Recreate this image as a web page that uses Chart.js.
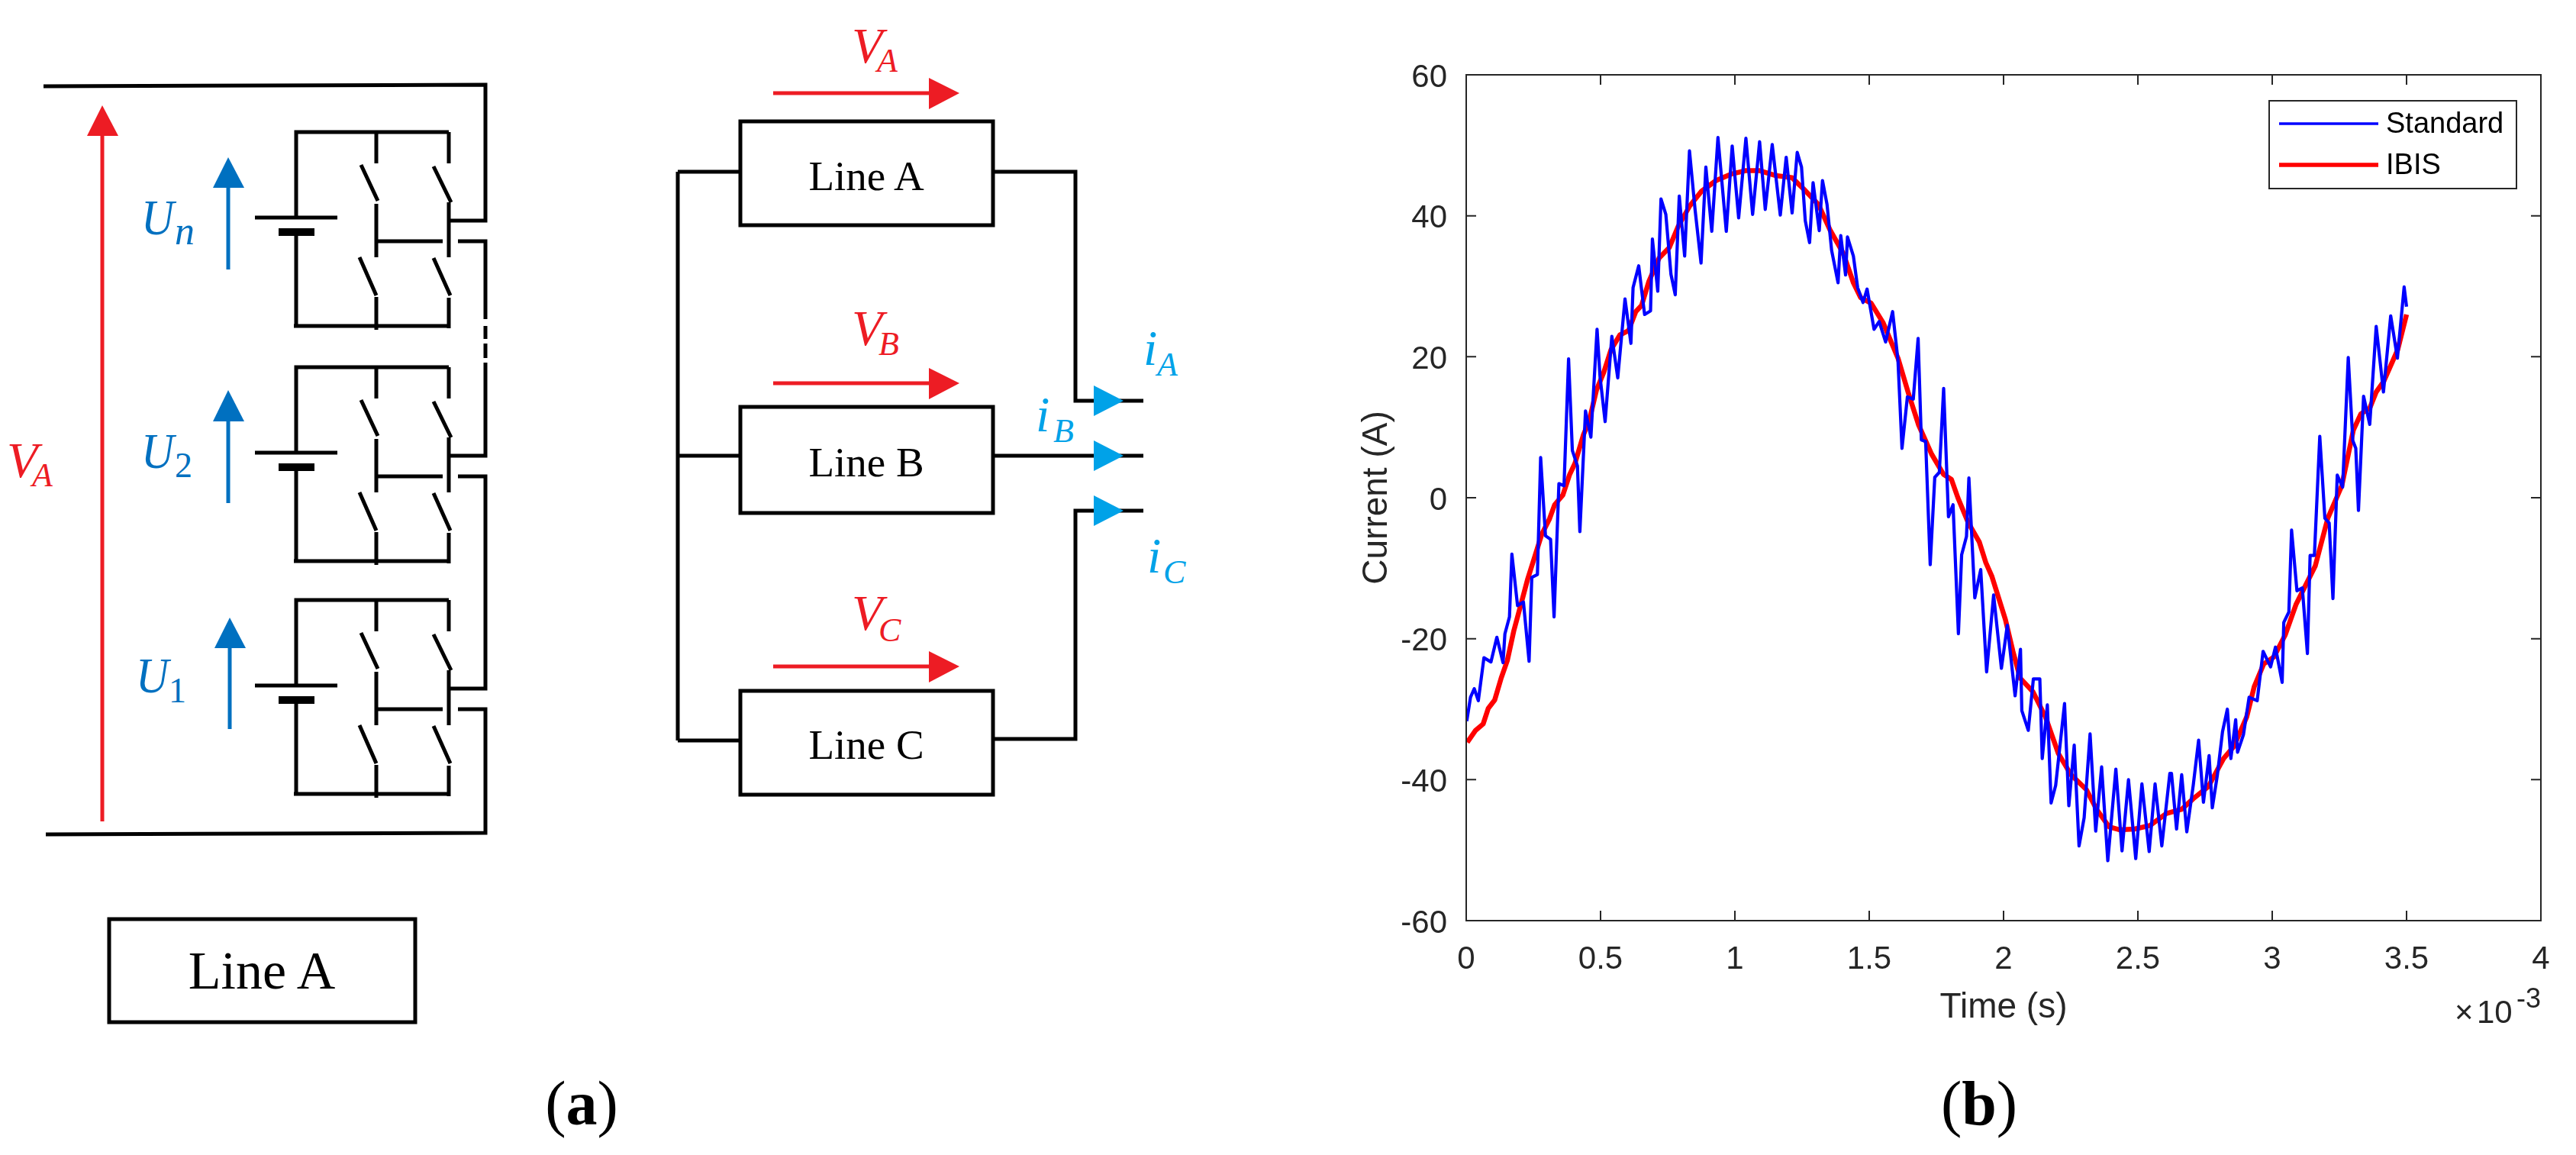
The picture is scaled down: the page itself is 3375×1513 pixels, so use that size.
<!DOCTYPE html>
<html>
<head>
<meta charset="utf-8">
<title>Line circuit and phase current</title>
<script src="https://cdn.jsdelivr.net/npm/chart.js@4/dist/chart.umd.min.js"></script>
<style>
    html, body { margin: 0; background: #fff; }
    #page { position: relative; width: 3375px; height: 1513px; overflow: hidden; }
    #page svg, #page canvas { position: absolute; left: 0; top: 0; }
    .wire { stroke: #000; stroke-width: 5; fill: none; }
    .lbl { font-family: "Liberation Serif", serif; font-style: italic; }
    .box { font-family: "Liberation Serif", serif; fill: #000; }
</style>
</head>
<body>
<div id="page">

    <!-- panel (a): the circuit, not data -->
    <svg width="3375" height="1513" viewBox="0 0 3375 1513" xmlns="http://www.w3.org/2000/svg">
        <defs>
            <g id="cell">
                <path class="wire" d="M588 173H388V285M385 427H590M388 309V427"/>
                <path class="wire" d="M493 173V214M473 216L495 263M493 267V337M471 337L493 387M493 389V432"/>
                <path class="wire" d="M588 173V214M568 218L591 265M588 265V337M568 338L590 387M588 390V430"/>
                <path class="wire" d="M493 316H580"/>
                <path class="wire" d="M334 285H442"/>
                <rect x="365" y="299" width="47" height="10" fill="#000"/>
            </g>
        </defs>

        <path class="wire" d="M57 113L636 111V289H588"/>
        <use href="#cell"/>
        <path class="wire" d="M600 316H636V418M636 427V444M636 450V469M636 475V597H588"/>
        <use href="#cell" y="308"/>
        <path class="wire" d="M600 624H636V902H588"/>
        <use href="#cell" y="613"/>
        <path class="wire" d="M600 929H636V1091L60 1093"/>

        <!-- left red arrow and cell arrows -->
        <path d="M134 1076V170" stroke="#ed1c24" stroke-width="5"/>
        <path d="M134 138L155 178H114Z" fill="#ed1c24"/>
        <path d="M299 353V240" stroke="#0070c0" stroke-width="5"/>
        <path d="M299 206L320 246H279Z" fill="#0070c0"/>
        <path d="M299 659V545" stroke="#0070c0" stroke-width="5"/>
        <path d="M299 511L320 552H279Z" fill="#0070c0"/>
        <path d="M301 955V843" stroke="#0070c0" stroke-width="5"/>
        <path d="M301 809L322 849H281Z" fill="#0070c0"/>

        <g class="lbl" fill="#0070c0">
            <text x="185" y="307" font-size="66" textLength="43" lengthAdjust="spacingAndGlyphs">U</text><text x="229" y="320" font-size="52">n</text>
            <text x="185" y="613" font-size="66" textLength="43" lengthAdjust="spacingAndGlyphs">U</text><text x="229" y="625" font-size="46" font-style="normal">2</text>
            <text x="178" y="907" font-size="66" textLength="43" lengthAdjust="spacingAndGlyphs">U</text><text x="221" y="920" font-size="46" font-style="normal">1</text>
        </g>
        <g class="lbl" fill="#ed1c24">
            <text x="9" y="625" font-size="66">V</text><text x="42" y="637" font-size="44">A</text>
            <text x="1116" y="82" font-size="66">V</text><text x="1149" y="94" font-size="44">A</text>
            <text x="1116" y="452" font-size="66">V</text><text x="1151" y="465" font-size="44">B</text>
            <text x="1116" y="825" font-size="66">V</text><text x="1151" y="840" font-size="44">C</text>
        </g>

        <!-- three line boxes -->
        <path class="wire" d="M888 225V970M888 225H970M888 597H970M888 970H970"/>
        <rect class="wire" x="970" y="159" width="331" height="136"/>
        <rect class="wire" x="970" y="533" width="331" height="139"/>
        <rect class="wire" x="970" y="905" width="331" height="136"/>
        <path class="wire" d="M1301 225H1409V525H1498M1301 597H1498M1301 968H1409V669H1498"/>
        <g class="box" font-size="55" text-anchor="middle">
            <text x="1135" y="249">Line A</text>
            <text x="1135" y="624">Line B</text>
            <text x="1135" y="994">Line C</text>
        </g>
        <g fill="#ed1c24" stroke="none">
            <path d="M1217 102L1257 122L1217 143Z"/>
            <path d="M1217 482L1257 502L1217 523Z"/>
            <path d="M1217 853L1257 873L1217 894Z"/>
        </g>
        <path d="M1013 122H1220M1013 502H1220M1013 873H1220" stroke="#ed1c24" stroke-width="5"/>
        <g fill="#00a2e8">
            <path d="M1433 505L1472 525L1433 545Z"/>
            <path d="M1433 577L1472 597L1433 617Z"/>
            <path d="M1433 649L1472 669L1433 689Z"/>
        </g>
        <g class="lbl" fill="#00a2e8">
            <text x="1498" y="478" font-size="66">i</text><text x="1516" y="492" font-size="44">A</text>
            <text x="1357" y="565" font-size="66">i</text><text x="1380" y="579" font-size="44">B</text>
            <text x="1503" y="750" font-size="66">i</text><text x="1524" y="764" font-size="44">C</text>
        </g>

        <rect class="wire" x="143" y="1204" width="401" height="135"/>
        <text class="box" x="343" y="1295" font-size="70" text-anchor="middle">Line A</text>

        <text class="box" x="762" y="1473" font-size="82" text-anchor="middle">(<tspan font-weight="bold">a</tspan>)</text>
        <text class="box" x="2593" y="1473" font-size="82" text-anchor="middle">(<tspan font-weight="bold">b</tspan>)</text>
    </svg>

    <canvas id="currentChart" width="3375" height="1513"></canvas>
</div>

<script>
    // values, time in units of 1e-3 s
    const standardTime = [0.002, 0.016, 0.030, 0.045, 0.066, 0.092, 0.114, 0.137, 0.144, 0.161, 0.170, 0.191, 0.213, 0.234, 0.244, 0.265, 0.277, 0.295, 0.314, 0.327, 0.345, 0.364, 0.381, 0.395, 0.414, 0.423, 0.444, 0.464, 0.487, 0.498, 0.517, 0.542, 0.564, 0.591, 0.613, 0.621, 0.642, 0.664, 0.686, 0.693, 0.713, 0.725, 0.743, 0.762, 0.778, 0.793, 0.813, 0.831, 0.852, 0.874, 0.892, 0.914, 0.937, 0.968, 0.990, 1.014, 1.041, 1.066, 1.092, 1.113, 1.139, 1.169, 1.191, 1.213, 1.232, 1.248, 1.262, 1.278, 1.291, 1.314, 1.326, 1.343, 1.360, 1.384, 1.394, 1.412, 1.419, 1.441, 1.457, 1.477, 1.492, 1.518, 1.537, 1.561, 1.587, 1.607, 1.622, 1.642, 1.664, 1.682, 1.694, 1.710, 1.727, 1.744, 1.761, 1.777, 1.795, 1.812, 1.832, 1.844, 1.862, 1.871, 1.893, 1.915, 1.937, 1.963, 1.992, 2.014, 2.043, 2.063, 2.068, 2.092, 2.111, 2.135, 2.144, 2.163, 2.177, 2.194, 2.227, 2.243, 2.263, 2.281, 2.300, 2.322, 2.343, 2.365, 2.388, 2.418, 2.441, 2.465, 2.492, 2.515, 2.542, 2.564, 2.589, 2.619, 2.625, 2.644, 2.663, 2.682, 2.706, 2.726, 2.744, 2.765, 2.777, 2.796, 2.815, 2.833, 2.846, 2.864, 2.871, 2.893, 2.914, 2.944, 2.966, 2.994, 3.012, 3.037, 3.043, 3.062, 3.072, 3.092, 3.112, 3.131, 3.141, 3.157, 3.177, 3.196, 3.212, 3.226, 3.242, 3.262, 3.283, 3.300, 3.311, 3.321, 3.340, 3.363, 3.387, 3.414, 3.441, 3.466, 3.491, 3.500];
    const standardCurrent = [-31.7, -28.3, -27.1, -28.8, -22.7, -23.3, -19.8, -23.4, -19.3, -16.9, -8.0, -15.3, -14.8, -23.2, -11.3, -10.9, 5.7, -5.4, -5.9, -16.9, 2.0, 1.7, 19.7, 6.7, 4.5, -4.8, 12.3, 8.6, 23.9, 17.2, 10.8, 22.9, 17.0, 28.2, 21.9, 29.8, 32.9, 26.0, 26.5, 36.7, 29.3, 42.4, 40.2, 31.7, 28.8, 42.8, 34.3, 49.2, 40.8, 33.3, 46.9, 37.8, 51.1, 37.8, 49.9, 39.7, 51.0, 40.2, 50.5, 40.9, 50.1, 40.1, 48.3, 40.4, 49.0, 46.9, 39.3, 36.2, 44.7, 37.9, 45.0, 41.6, 35.1, 30.5, 37.2, 31.6, 37.0, 34.3, 29.8, 27.7, 29.6, 23.9, 25.0, 22.1, 26.4, 19.5, 7.0, 14.3, 14.0, 22.6, 8.2, 8.0, -9.5, 2.9, 3.6, 15.5, -2.7, -1.0, -19.3, -8.1, -5.5, 2.8, -14.2, -10.2, -24.7, -13.8, -24.2, -18.1, -28.1, -21.5, -30.2, -33.0, -25.7, -25.7, -37.0, -29.4, -43.3, -40.8, -29.2, -43.7, -35.1, -49.4, -45.4, -33.5, -47.3, -38.2, -51.5, -38.5, -50.1, -40.0, -51.2, -40.6, -50.2, -40.6, -49.4, -39.1, -39.1, -47.0, -39.3, -47.4, -40.8, -34.4, -43.2, -36.6, -44.0, -39.3, -33.2, -30.0, -37.0, -31.5, -36.1, -33.6, -28.3, -28.8, -21.8, -24.0, -21.2, -26.2, -17.7, -16.2, -4.6, -13.2, -12.8, -22.1, -8.2, -8.2, 8.7, -2.9, -3.6, -14.3, 3.2, 1.5, 19.9, 8.1, 7.0, -1.8, 14.4, 10.4, 24.3, 15.0, 25.8, 19.8, 29.9, 27.1];

    const ibisTime = [0.004, 0.035, 0.063, 0.082, 0.106, 0.130, 0.153, 0.177, 0.206, 0.229, 0.253, 0.281, 0.310, 0.329, 0.360, 0.385, 0.405, 0.436, 0.457, 0.485, 0.512, 0.539, 0.572, 0.604, 0.631, 0.653, 0.680, 0.718, 0.756, 0.789, 0.832, 0.876, 0.930, 0.985, 1.039, 1.093, 1.153, 1.213, 1.256, 1.311, 1.354, 1.403, 1.441, 1.468, 1.507, 1.552, 1.608, 1.646, 1.684, 1.732, 1.777, 1.806, 1.830, 1.868, 1.910, 1.934, 1.957, 2.007, 2.035, 2.062, 2.109, 2.156, 2.204, 2.251, 2.308, 2.346, 2.393, 2.431, 2.488, 2.545, 2.606, 2.663, 2.706, 2.762, 2.819, 2.857, 2.905, 2.933, 2.968, 3.006, 3.048, 3.089, 3.160, 3.207, 3.259, 3.302, 3.330, 3.363, 3.387, 3.415, 3.467, 3.500];
    const ibisCurrent = [-34.7, -33.0, -32.1, -29.9, -28.7, -25.6, -23.1, -18.9, -14.8, -11.5, -8.6, -5.2, -3.0, -1.0, 0.4, 3.3, 4.9, 8.9, 10.8, 15.3, 17.8, 21.0, 23.1, 23.7, 26.4, 27.3, 30.7, 34.0, 35.5, 38.5, 41.4, 43.5, 45.0, 45.9, 46.4, 46.4, 45.7, 45.4, 43.8, 41.6, 38.0, 34.7, 30.5, 28.4, 27.6, 24.8, 19.7, 14.8, 10.3, 6.2, 3.3, 2.6, 0.0, -3.5, -6.3, -9.2, -11.2, -17.3, -21.8, -25.6, -27.5, -31.1, -36.3, -39.3, -41.4, -44.2, -46.7, -47.1, -47.0, -46.5, -44.8, -44.2, -42.7, -41.0, -37.0, -35.3, -31.1, -26.8, -23.6, -22.6, -19.5, -15.1, -9.7, -2.9, 1.7, 9.6, 11.9, 12.7, 15.0, 16.5, 21.0, 26.0];

    const seriesNames = ['Standard', 'IBIS'];
    const xTickLabels = ['0', '0.5', '1', '1.5', '2', '2.5', '3', '3.5', '4'];
    const yTickLabels = ['-60', '-40', '-20', '0', '20', '40', '60'];

    const axisColor = '#262626';
    const axisFont = '"Liberation Sans", Arial, sans-serif';

    // MATLAB style box: ticks pointing in on all four sides, legend and exponent
    const matlabBox = {
        id: 'matlabBox',
        afterDatasetsDraw(chart) {
            const { ctx, chartArea: area, scales: { x, y } } = chart;
            ctx.save();
            ctx.strokeStyle = axisColor;
            ctx.lineWidth = 2;
            ctx.strokeRect(area.left, area.top, area.width, area.height);

            ctx.beginPath();
            x.ticks.forEach(t => {
                const px = x.getPixelForValue(t.value);
                ctx.moveTo(px, area.bottom);
                ctx.lineTo(px, area.bottom - 13);
                ctx.moveTo(px, area.top);
                ctx.lineTo(px, area.top + 13);
            });
            y.ticks.forEach(t => {
                const py = y.getPixelForValue(t.value);
                ctx.moveTo(area.left, py);
                ctx.lineTo(area.left + 13, py);
                ctx.moveTo(area.right, py);
                ctx.lineTo(area.right - 13, py);
            });
            ctx.stroke();

            // legend
            ctx.fillStyle = '#fff';
            ctx.fillRect(2973, 132, 324, 115);
            ctx.lineWidth = 2;
            ctx.strokeRect(2973, 132, 324, 115);
            const rowY = [162, 216];
            chart.data.datasets.forEach((ds, i) => {
                ctx.strokeStyle = ds.borderColor;
                ctx.lineWidth = i === 0 ? 3.5 : 5.5;
                ctx.beginPath();
                ctx.moveTo(2986, rowY[i]);
                ctx.lineTo(3116, rowY[i]);
                ctx.stroke();
                ctx.fillStyle = '#000';
                ctx.font = '38px ' + axisFont;
                ctx.textBaseline = 'middle';
                ctx.textAlign = 'left';
                ctx.fillText(ds.label, 3126, rowY[i] + 2);
            });

            // axis exponent
            ctx.fillStyle = axisColor;
            ctx.textBaseline = 'alphabetic';
            ctx.font = '42px ' + axisFont;
            ctx.fillText('×', 3216, 1340);
            ctx.fillText('10', 3245, 1340);
            ctx.font = '36px ' + axisFont;
            ctx.fillText('-3', 3297, 1320);
            ctx.restore();
        }
    };

    new Chart(document.getElementById('currentChart'), {
        type: 'line',
        plugins: [matlabBox],
        data: {
            datasets: [
                {
                    label: seriesNames[0],
                    data: standardTime.map((t, i) => ({ x: t, y: standardCurrent[i] })),
                    borderColor: '#0000ff',
                    borderWidth: 4.2,
                    pointRadius: 0,
                    tension: 0,
                    borderJoinStyle: 'round'
                },
                {
                    label: seriesNames[1],
                    data: ibisTime.map((t, i) => ({ x: t, y: ibisCurrent[i] })),
                    borderColor: '#ff0000',
                    borderWidth: 6.5,
                    pointRadius: 0,
                    tension: 0,
                    borderJoinStyle: 'round'
                }
            ]
        },
        options: {
            responsive: false,
            animation: false,
            devicePixelRatio: 1,
            layout: { padding: { left: 0, top: 98, right: 46, bottom: 0 } },
            plugins: { legend: { display: false }, tooltip: { enabled: false } },
            scales: {
                x: {
                    type: 'linear',
                    min: 0,
                    max: 4,
                    ticks: {
                        stepSize: 0.5,
                        autoSkip: false,
                        maxRotation: 0,
                        padding: 18,
                        color: axisColor,
                        font: { family: axisFont, size: 42 },
                        callback: (v, i) => xTickLabels[i]
                    },
                    grid: { display: false },
                    border: { display: false },
                    title: {
                        display: true,
                        text: 'Time (s)',
                        color: axisColor,
                        font: { family: axisFont, size: 46 },
                        padding: { top: 0, bottom: 165 }
                    },
                    afterFit(scale) { scale.height = 307; }
                },
                y: {
                    min: -60,
                    max: 60,
                    ticks: {
                        stepSize: 20,
                        autoSkip: false,
                        padding: 17,
                        labelOffset: 4,
                        color: axisColor,
                        font: { family: axisFont, size: 42 },
                        callback: (v, i) => yTickLabels[i]
                    },
                    grid: { display: false },
                    border: { display: false },
                    title: {
                        display: true,
                        text: 'Current (A)',
                        color: axisColor,
                        font: { family: axisFont, size: 46 },
                        padding: { top: 1777, bottom: 0 }
                    },
                    afterFit(scale) { scale.width = 1921; }
                }
            }
        }
    });
</script>
</body>
</html>
